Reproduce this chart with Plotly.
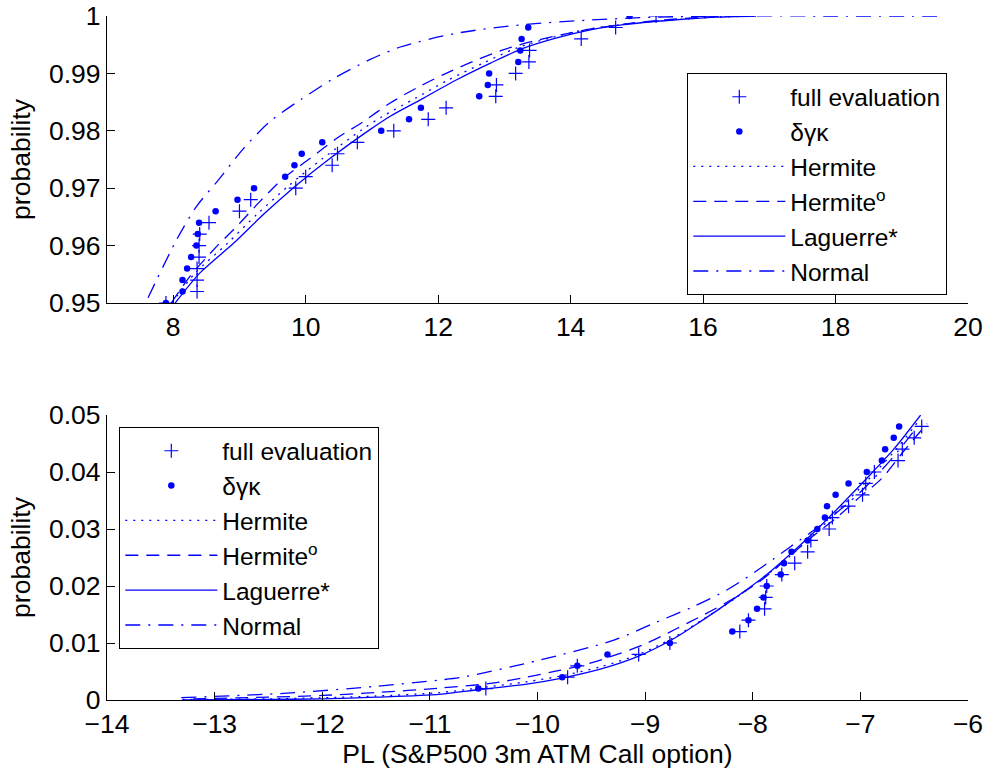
import plotly.graph_objects as go

# ---------------- upper panel: right tail (probability 0.95 .. 1) ----------------
upper_levels = [0.950, 0.952, 0.954, 0.956, 0.958, 0.960, 0.962, 0.964, 0.966, 0.968,
                0.970, 0.972, 0.974, 0.976, 0.978, 0.980, 0.982, 0.984, 0.986, 0.988,
                0.990, 0.992, 0.994, 0.996, 0.998, 1.000]
upper_full = [7.89, 8.36, 8.36, 8.36, 8.39, 8.39, 8.40, 8.54, 9.00, 9.17,
              9.85, 10.00, 10.40, 10.48, 10.78, 11.33, 11.85, 12.12, 12.87, 12.88,
              13.17, 13.37, 13.38, 14.16, 14.68, 15.29]
upper_dgk = [7.89, 8.14, 8.14, 8.21, 8.27, 8.35, 8.37, 8.39, 8.64, 8.97,
             9.22, 9.69, 9.83, 9.94, 10.25, 11.14, 11.56, 11.74, 12.62, 12.75,
             12.77, 13.21, 13.24, 13.26, 13.36, 14.89]

upper_lag_x = [8.03, 8.40, 8.91, 9.36, 9.87, 10.37, 10.97, 11.27, 11.78, 12.28,
               12.79, 13.29, 13.79, 14.30, 14.80, 15.55, 16.20, 16.80]
upper_lag_y = [0.9500, 0.9552, 0.9604, 0.9654, 0.9706, 0.9752, 0.9802, 0.9825, 0.9857, 0.9889,
               0.9918, 0.9944, 0.9962, 0.9976, 0.9985, 0.9993, 0.9998, 1.0000]
upper_her_x = [7.98, 8.33, 8.82, 9.26, 9.76, 10.26, 10.85, 11.16, 11.66, 12.16,
               12.68, 13.18, 13.70, 14.22, 14.75, 15.50, 16.20, 16.80]
upper_her_y = [0.9500, 0.9552, 0.9604, 0.9654, 0.9706, 0.9752, 0.9802, 0.9825, 0.9857, 0.9889,
               0.9918, 0.9944, 0.9962, 0.9976, 0.9985, 0.9993, 0.9998, 1.0000]
upper_hero_x = [7.97, 8.25, 8.66, 8.98, 9.31, 9.66, 10.07, 10.47, 10.87, 11.27,
                11.68, 12.08, 12.53, 12.98, 13.43, 13.89, 14.39, 14.95, 15.60, 16.30]
upper_hero_y = [0.9500, 0.9546, 0.9599, 0.9636, 0.9677, 0.9717, 0.9752, 0.9787, 0.9816, 0.9848,
                0.9875, 0.9898, 0.9921, 0.9941, 0.9956, 0.9968, 0.9979, 0.9988, 0.9995, 1.0000]
upper_norm_x = [7.62, 8.05, 8.35, 8.68, 9.06, 9.46, 9.92, 10.42, 10.95, 11.43,
                12.28, 13.29, 14.30, 15.30, 16.50, 18.00, 19.56]
upper_norm_y = [0.9509, 0.9610, 0.9668, 0.9714, 0.9769, 0.9816, 0.9854, 0.9891, 0.9923, 0.9946,
                0.9970, 0.9985, 0.9993, 0.9998, 1.0000, 1.0000, 1.0000]

# ---------------- lower panel: left tail (probability 0 .. 0.05) ----------------
lower_levels = [0.002, 0.004, 0.006, 0.008, 0.010, 0.012, 0.014, 0.016, 0.018, 0.020,
                0.022, 0.024, 0.026, 0.028, 0.030, 0.032, 0.034, 0.036, 0.038, 0.040,
                0.042, 0.044, 0.046, 0.048]
lower_full = [-10.48, -9.72, -9.63, -9.06, -8.77, -8.12, -8.04, -7.89, -7.88, -7.87,
              -7.73, -7.61, -7.49, -7.46, -7.29, -7.26, -7.11, -6.98, -6.95, -6.87,
              -6.65, -6.61, -6.50, -6.43]
lower_dgk = [-10.55, -9.77, -9.63, -9.35, -8.77, -8.19, -8.04, -7.96, -7.90, -7.87,
             -7.74, -7.71, -7.64, -7.49, -7.40, -7.33, -7.31, -7.23, -7.11, -6.94,
             -6.80, -6.77, -6.69, -6.64]

lower_lag_x = [-13.30, -12.50, -12.00, -11.50, -10.91, -10.55, -10.10, -9.76, -9.40, -9.06,
               -8.74, -8.49, -8.18, -7.87, -7.65, -7.40, -7.19, -6.94, -6.69, -6.44]
lower_lag_y = [0.0000, 0.0001, 0.0002, 0.0005, 0.0010, 0.0018, 0.0028, 0.0039, 0.0055, 0.0077,
               0.0107, 0.0137, 0.0177, 0.0220, 0.0256, 0.0300, 0.0340, 0.0389, 0.0440, 0.0500]
lower_her_x = [-13.30, -12.50, -12.00, -11.50, -10.91, -10.55, -10.10, -9.76, -9.40, -9.06,
               -8.74, -8.49, -8.18, -7.87, -7.65, -7.40, -7.19, -6.94, -6.69, -6.44]
lower_her_y = [0.0001, 0.0002, 0.0004, 0.0007, 0.0013, 0.0021, 0.0032, 0.0043, 0.0059, 0.0080,
               0.0109, 0.0138, 0.0176, 0.0219, 0.0253, 0.0296, 0.0336, 0.0384, 0.0435, 0.0494]
lower_hero_x = [-13.20, -12.50, -12.00, -11.50, -10.90, -10.44, -10.10, -9.82, -9.54, -9.26,
                -8.98, -8.71, -8.45, -8.18, -7.90, -7.47, -7.22, -7.03, -6.80, -6.60, -6.38]
lower_hero_y = [0.0002, 0.0005, 0.0008, 0.0013, 0.0021, 0.0029, 0.0040, 0.0051, 0.0063, 0.0080,
                0.0100, 0.0125, 0.0150, 0.0178, 0.0213, 0.0283, 0.0320, 0.0352, 0.0389, 0.0436, 0.0485]
lower_norm_x = [-13.31, -12.33, -11.50, -10.91, -10.67, -9.98, -9.29, -8.89, -8.55, -8.24,
                -7.93, -7.65, -7.33, -7.00, -6.70, -6.47]
lower_norm_y = [0.0004, 0.0012, 0.0024, 0.0035, 0.0041, 0.0070, 0.0105, 0.0137, 0.0164, 0.0193,
                0.0231, 0.0269, 0.0312, 0.0365, 0.0425, 0.0480]

# ---------------- tick labels ----------------
upper_xticks = [8, 10, 12, 14, 16, 18, 20]
upper_xlabels = ["8", "10", "12", "14", "16", "18", "20"]
upper_yticks = [0.95, 0.96, 0.97, 0.98, 0.99, 1.0]
upper_ylabels = ["0.95", "0.96", "0.97", "0.98", "0.99", "1"]
lower_xticks = [-14, -13, -12, -11, -10, -9, -8, -7, -6]
lower_xlabels = ["\u221214", "\u221213", "\u221212", "\u221211", "\u221210",
                 "\u22129", "\u22128", "\u22127", "\u22126"]
lower_yticks = [0, 0.01, 0.02, 0.03, 0.04, 0.05]
lower_ylabels = ["0", "0.01", "0.02", "0.03", "0.04", "0.05"]

BLUE = "#0000ff"
FONT = "Liberation Sans, Arial, sans-serif"
FS = 26.5      # tick labels and axis titles
LEG_FS = 24.5  # legend entries
LW = 1.3

fig = go.Figure()


def add_panel(xa, ya, leg, full_x, dgk_x, levels, curves):
    fig.add_trace(go.Scatter(
        x=full_x, y=levels, mode="markers", name="full evaluation",
        xaxis=xa, yaxis=ya, legend=leg,
        marker=dict(symbol="cross-thin", size=10, color=BLUE,
                    line=dict(color=BLUE, width=1.2))))
    fig.add_trace(go.Scatter(
        x=dgk_x, y=levels, mode="markers", name="\u03b4\u03b3\u03ba",
        xaxis=xa, yaxis=ya, legend=leg,
        marker=dict(symbol="circle", size=6.5, color=BLUE)))
    styles = [("Hermite", "2px,6px"),
              ("Hermite<sup>o</sup>", "13px,8px"),
              ("Laguerre*", "solid"),
              ("Normal", "15px,8px,2px,8px")]
    for (name, dash), (cx, cy) in zip(styles, curves):
        fig.add_trace(go.Scatter(
            x=cx, y=cy, mode="lines", name=name,
            xaxis=xa, yaxis=ya, legend=leg,
            line=dict(color=BLUE, width=LW, dash=dash, shape="spline", smoothing=0.8)))


add_panel("x", "y", "legend", upper_full, upper_dgk, upper_levels,
          [(upper_her_x, upper_her_y), (upper_hero_x, upper_hero_y),
           (upper_lag_x, upper_lag_y), (upper_norm_x, upper_norm_y)])
add_panel("x2", "y2", "legend2", lower_full, lower_dgk, lower_levels,
          [(lower_her_x, lower_her_y), (lower_hero_x, lower_hero_y),
           (lower_lag_x, lower_lag_y), (lower_norm_x, lower_norm_y)])

axis_common = dict(
    showline=True, linecolor="#000000", linewidth=LW,
    ticks="inside", ticklen=8, tickwidth=LW, tickcolor="#000000",
    showgrid=False, zeroline=False, mirror=False,
    tickfont=dict(family=FONT, size=FS, color="#000000"),
    automargin=False,
)

XDOM = [107 / 993, 968 / 993]
legend_common = dict(
    bgcolor="#ffffff", bordercolor="#000000", borderwidth=LW,
    font=dict(family=FONT, size=LEG_FS, color="#000000"),
    itemwidth=92, xanchor="left", yanchor="top", tracegroupgap=0,
)

fig.update_layout(
    width=993, height=772,
    margin=dict(l=0, r=0, t=0, b=0),
    paper_bgcolor="#ffffff", plot_bgcolor="#ffffff",
    font=dict(family=FONT, size=FS, color="#000000"),
    xaxis=dict(domain=XDOM, range=[7, 20], tickvals=upper_xticks, ticktext=upper_xlabels,
               anchor="y", **axis_common),
    yaxis=dict(domain=[1 - 303 / 772, 1 - 16 / 772], range=[0.95, 1.0],
               tickvals=upper_yticks, ticktext=upper_ylabels, anchor="x",
               title=dict(text="probability", standoff=10,
                          font=dict(family=FONT, size=FS, color="#000000")),
               **axis_common),
    xaxis2=dict(domain=XDOM, range=[-14, -6], tickvals=lower_xticks, ticktext=lower_xlabels,
                anchor="y2",
                title=dict(text="PL (S&P500 3m ATM Call option)", standoff=3,
                           font=dict(family=FONT, size=FS, color="#000000")),
                **axis_common),
    yaxis2=dict(domain=[1 - 700 / 772, 1 - 415 / 772], range=[0, 0.05],
                tickvals=lower_yticks, ticktext=lower_ylabels, anchor="x2",
                title=dict(text="probability", standoff=10,
                           font=dict(family=FONT, size=FS, color="#000000")),
                **axis_common),
    legend=dict(x=687 / 993, y=1 - 73 / 772, **legend_common),
    legend2=dict(x=119 / 993, y=1 - 427 / 772, **legend_common),
    showlegend=True,
)

fig.write_html("out.html")
